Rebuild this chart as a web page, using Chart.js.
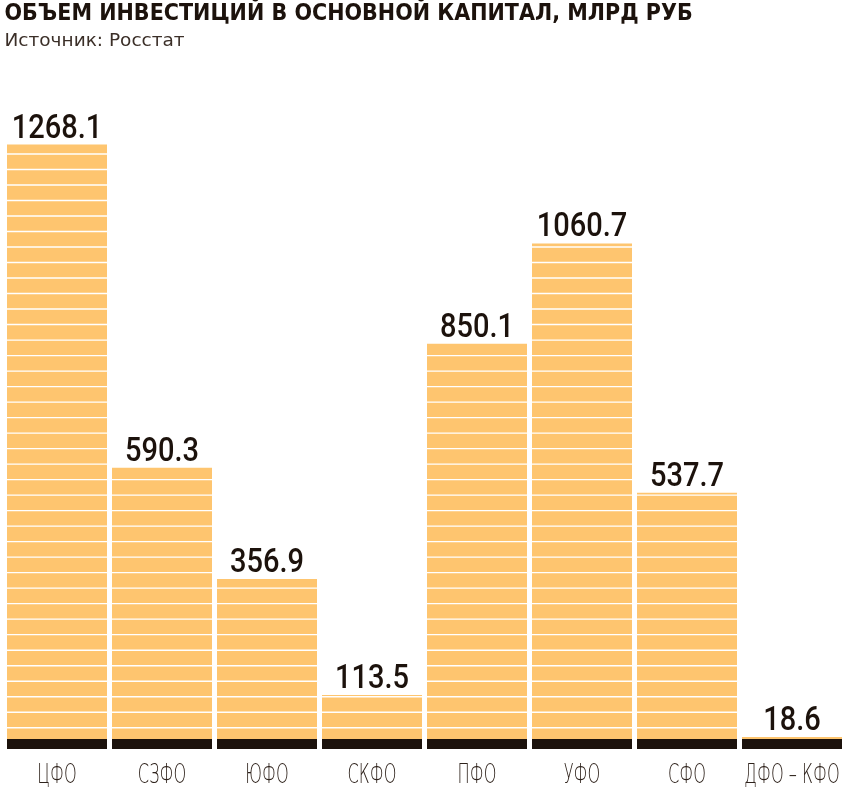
<!DOCTYPE html>
<html lang="ru">
<head>
<meta charset="utf-8">
<script src="https://cdn.jsdelivr.net/npm/chart.js"></script>
<style>
  html, body { margin: 0; padding: 0; background: #fff; }
  .chart-wrapper { position: relative; width: 850px; height: 787px; }
</style>
</head>
<body>
<div class="chart-wrapper"><canvas id="invest-chart"></canvas></div>
<script>
// Данные: объем инвестиций в основной капитал по федеральным округам, млрд руб
const regions = ['ЦФО', 'СЗФО', 'ЮФО', 'СКФО', 'ПФО', 'УФО', 'СФО', 'ДФО – КФО'];
const investments = [1268.1, 590.3, 356.9, 113.5, 850.1, 1060.7, 537.7, 18.6];

const titleText = 'ОБЪЕМ ИНВЕСТИЦИЙ В ОСНОВНОЙ КАПИТАЛ, МЛРД РУБ';
const sourceText = 'Источник: Росстат';

const NARROW = "'DejaVu Sans Condensed', 'DejaVu Sans', sans-serif";
const BAR_COLOR = '#fec56f';
const DARK = '#1c120c';

// сжатый по горизонтали текст (шрифт в макете узкий)
function narrowText(ctx, text, x, y, squeeze) {
  ctx.save();
  ctx.translate(x, y);
  ctx.scale(squeeze, 1);
  ctx.fillText(text, 0, 0);
  ctx.restore();
}

// белые полоски поверх столбиков, темная подложка, подписи значений и округов
const barDecor = {
  id: 'barDecor',
  afterDatasetsDraw(chart) {
    const ctx = chart.ctx;
    const area = chart.chartArea;
    const xScale = chart.scales.x;
    const bars = chart.getDatasetMeta(0).data;

    // горизонтальные полосы с шагом ~15.5px от основания
    ctx.save();
    ctx.strokeStyle = '#ffffff';
    ctx.lineWidth = 1.4;
    for (let y = area.bottom - 21.3; y > area.top; y -= 15.505) {
      ctx.beginPath();
      ctx.moveTo(area.left, y);
      ctx.lineTo(area.right, y);
      ctx.stroke();
    }

    // темная полоса внизу каждого столбика
    ctx.fillStyle = DARK;
    bars.forEach(bar => {
      ctx.fillRect(bar.x - bar.width / 2, bar.base - 10, bar.width, 10);
    });

    // значения над столбиками
    ctx.fillStyle = DARK;
    ctx.font = `500 33px Roboto, ${NARROW}`;
    ctx.textAlign = 'center';
    ctx.textBaseline = 'alphabetic';
    bars.forEach((bar, i) => {
      narrowText(ctx, investments[i].toFixed(1), bar.x, bar.y - 7, 0.88);
    });

    // подписи округов под осью
    ctx.fillStyle = '#2e221b';
    ctx.font = `200 27px 'DejaVu Sans', sans-serif`;
    regions.forEach((name, i) => {
      narrowText(ctx, name, xScale.getPixelForValue(i), 783, 0.6);
    });
    ctx.restore();
  }
};

new Chart(document.getElementById('invest-chart'), {
  type: 'bar',
  data: {
    labels: regions,
    datasets: [{
      data: investments,
      backgroundColor: BAR_COLOR,
      borderWidth: 0,
      minBarLength: 12,
      barPercentage: 100 / 105,
      categoryPercentage: 1
    }]
  },
  options: {
    responsive: true,
    maintainAspectRatio: false,
    animation: false,
    layout: {
      padding: { left: 4.5, right: 5.5, top: 0, bottom: 38 }
    },
    scales: {
      x: { display: false },
      y: {
        display: false,
        min: 0,
        max: 1462
      }
    },
    plugins: {
      legend: { display: false },
      tooltip: { enabled: false },
      title: {
        display: true,
        text: titleText,
        align: 'start',
        color: DARK,
        padding: { top: 3, bottom: 2 },
        font: { family: NARROW, size: 23, weight: 'bold', lineHeight: 1.0 }
      },
      subtitle: {
        display: true,
        text: sourceText,
        align: 'start',
        color: '#3b2f28',
        padding: { top: 2, bottom: 0 },
        font: { family: "'DejaVu Sans', sans-serif", size: 18.5, weight: 'normal', lineHeight: 1.2 }
      }
    }
  },
  plugins: [barDecor]
});
</script>
</body>
</html>
